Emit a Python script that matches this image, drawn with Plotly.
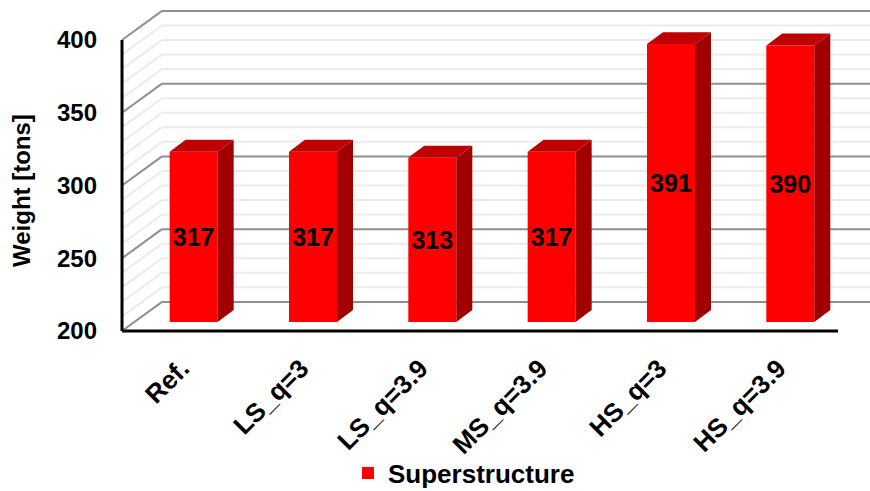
import numpy as np
import plotly.graph_objects as go

# ---- data ----
categories = ["Ref.", "LS_q=3", "LS_q=3.9", "MS_q=3.9", "HS_q=3", "HS_q=3.9"]
weights = [317, 317, 313, 317, 391, 390]
series_name = "Superstructure"
y_ticks = [200, 250, 300, 350, 400]

# ---- pseudo-3D geometry (in axis units) ----
PX_CAT = 119.33          # pixels per category slot
PX_UNIT = 1.455          # pixels per ton
Y_MIN, Y_MAX = 200, 400
DEPTH_X, DEPTH_Y = 40 / PX_CAT, 20.0          # wall depth offset
BAR_OFF_X, BAR_OFF_Y = 12 / PX_CAT, 6.2       # bar front face behind front plane
BAR_DX, BAR_DY = 16 / PX_CAT, 8.2             # bar depth
BAR_W = 48 / PX_CAT

W, H = 870, 491
LEFT, BOTTOM = 116, 337
x0 = -0.5 - (122 - LEFT) / PX_CAT
x_range = [x0, x0 + (W - LEFT) / PX_CAT]
y0 = Y_MIN - (BOTTOM - 331) / PX_UNIT
y_range = [y0, y0 + BOTTOM / PX_UNIT]

n = len(categories)
pos = np.arange(n)
vals = np.array(weights, dtype=float)

FONT = "Arial, Liberation Sans, sans-serif"

fig = go.Figure()

# front faces of the columns
fig.add_trace(go.Bar(
    x=pos + BAR_OFF_X,
    y=vals - Y_MIN,
    base=Y_MIN + BAR_OFF_Y,
    width=BAR_W,
    marker=dict(color="#FF0000", line=dict(width=0)),
    name=series_name,
    text=[str(v) for v in weights],
    textposition="inside",
    insidetextanchor="middle",
    textangle=0,
    constraintext="none",
    textfont=dict(family=FONT, size=25, color="black", weight="bold"),
    hoverinfo="skip",
))

# side and top faces
side_x, side_y, top_x, top_y = [], [], [], []
for p, v in zip(pos, vals):
    xl = p + BAR_OFF_X - BAR_W / 2
    xr = p + BAR_OFF_X + BAR_W / 2
    base = Y_MIN + BAR_OFF_Y
    top = v + BAR_OFF_Y
    side_x += [xr, xr + BAR_DX, xr + BAR_DX, xr, xr, None]
    side_y += [base, base + BAR_DY, top + BAR_DY, top, base, None]
    top_x += [xl, xl + BAR_DX, xr + BAR_DX, xr, xl, None]
    top_y += [top, top + BAR_DY, top + BAR_DY, top, top, None]

fig.add_trace(go.Scatter(x=side_x, y=side_y, mode="lines", fill="toself",
                         fillcolor="#A00000", line=dict(width=0),
                         showlegend=False, hoverinfo="skip"))
fig.add_trace(go.Scatter(x=top_x, y=top_y, mode="lines", fill="toself",
                         fillcolor="#C00000", line=dict(width=0),
                         showlegend=False, hoverinfo="skip"))

# back wall and side wall gridlines
shapes = []
for v in range(Y_MIN, Y_MAX + 1, 10):
    major = v % 50 == 0
    col = "#8f8f8f" if major else "#ebebeb"
    shapes.append(dict(type="line", xref="x", yref="y", layer="below",
                       x0=-0.5 + DEPTH_X, x1=n - 0.5 + DEPTH_X + 1,
                       y0=v + DEPTH_Y, y1=v + DEPTH_Y,
                       line=dict(color=col, width=2)))
    shapes.append(dict(type="line", xref="x", yref="y", layer="below",
                       x0=-0.5, x1=-0.5 + DEPTH_X,
                       y0=v, y1=v + DEPTH_Y,
                       line=dict(color=col, width=2)))

# front axis lines
shapes.append(dict(type="line", xref="x", yref="y", layer="above",
                   x0=-0.5, x1=-0.5, y0=Y_MIN, y1=Y_MAX,
                   line=dict(color="black", width=3)))
shapes.append(dict(type="line", xref="x", yref="y", layer="above",
                   x0=-0.5, x1=n - 0.5, y0=Y_MIN, y1=Y_MIN,
                   line=dict(color="black", width=3)))

fig.update_layout(
    width=W, height=H, autosize=False,
    margin=dict(l=LEFT, r=0, t=0, b=H - BOTTOM, autoexpand=False),
    paper_bgcolor="white", plot_bgcolor="white",
    shapes=shapes,
    showlegend=True,
    legend=dict(orientation="h", x=(464 - LEFT) / (W - LEFT), xanchor="center",
                y=(BOTTOM - 473) / BOTTOM, yanchor="middle",
                font=dict(family=FONT, size=26, color="black", weight="bold"),
                bgcolor="rgba(0,0,0,0)"),
    xaxis=dict(range=x_range, tickmode="array", tickvals=list(pos),
               ticktext=categories, tickangle=-45, showgrid=False,
               zeroline=False, showline=False, ticks="", automargin=False,
               ticklabelstandoff=10,
               tickfont=dict(family=FONT, size=26, color="black", weight="bold")),
    yaxis=dict(range=y_range, tickmode="array", tickvals=y_ticks,
               showgrid=False, zeroline=False, showline=False, ticks="",
               automargin=False, ticklabelstandoff=18,
               tickfont=dict(family=FONT, size=24, color="black", weight="bold")),
    annotations=[dict(text="Weight [tons]", textangle=-90, showarrow=False,
                      xref="paper", x=(22 - LEFT) / (W - LEFT), xanchor="center",
                      yref="paper", y=(BOTTOM - 191) / BOTTOM, yanchor="middle",
                      font=dict(family=FONT, size=24, color="black", weight="bold"))],
)

fig.write_html("out.html")
